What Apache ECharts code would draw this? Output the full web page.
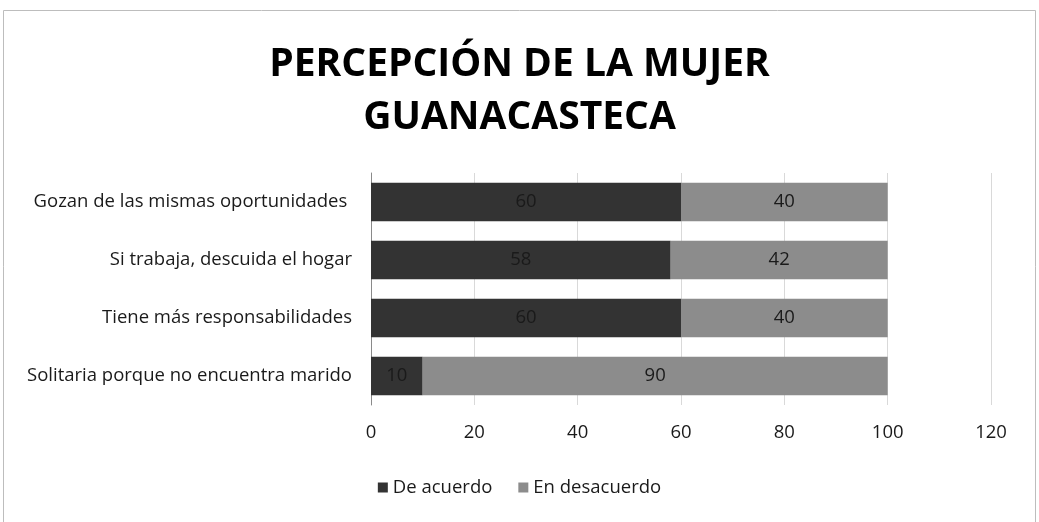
<!DOCTYPE html>
<html>
<head>
<meta charset="utf-8">
<script src="https://cdn.jsdelivr.net/npm/echarts@6/dist/echarts.min.js"></script>
<style>
  html, body { margin: 0; padding: 0; background: #fff; }
  #chart { width: 1039px; height: 522px; }
</style>
</head>
<body>
<div id="chart"></div>
<script>
var categories = [
    'Gozan de las mismas oportunidades ',
    'Si trabaja, descuida el hogar',
    'Tiene más responsabilidades',
    'Solitaria porque no encuentra marido'
];
var deAcuerdo = [60, 58, 60, 10];
var enDesacuerdo = [40, 42, 40, 90];
var xTicks = [0, 20, 40, 60, 80, 100, 120];

var chart = echarts.init(document.getElementById('chart'));

var font = '"Open Sans", "Noto Sans", sans-serif';

chart.setOption({
    textStyle: { fontFamily: font },
    color: ['#333333', '#8c8c8c'],
    title: {
        text: 'PERCEPCIÓN DE LA MUJER\nGUANACASTECA',
        left: 'center',
        top: 33,
        textStyle: {
            fontFamily: font,
            fontSize: 39,
            fontWeight: 'bold',
            color: '#000',
            lineHeight: 53
        }
    },
    graphic: [{
        type: 'rect',
        shape: { x: 3.5, y: 10.5, width: 1032, height: 530 },
        style: { fill: 'none', stroke: '#bdbdbd', lineWidth: 1 },
        silent: true
    }],
    legend: {
        bottom: 20,
        left: 'center',
        icon: 'rect',
        itemWidth: 10,
        itemHeight: 10,
        itemGap: 26,
        textStyle: { fontSize: 18.5, color: '#1a1a1a', fontFamily: font },
        data: ['De acuerdo', 'En desacuerdo']
    },
    grid: {
        left: 371,
        right: 48,
        top: 173,
        bottom: 117
    },
    xAxis: {
        type: 'value',
        min: xTicks[0],
        max: xTicks[xTicks.length - 1],
        interval: 20,
        axisLine: { show: false },
        axisTick: { show: false },
        axisLabel: { fontSize: 18.5, color: '#1a1a1a', margin: 18 },
        splitLine: { lineStyle: { color: '#d9d9d9', width: 1 } }
    },
    yAxis: {
        type: 'category',
        inverse: true,
        data: categories,
        axisLine: { show: true, lineStyle: { color: '#8a8a8a' } },
        axisTick: { show: false },
        axisLabel: { fontSize: 18.5, color: '#1a1a1a', margin: 19 }
    },
    series: [{
        name: 'De acuerdo',
        type: 'bar',
        stack: 'total',
        barWidth: '66%',
        data: deAcuerdo,
        label: { show: true, position: 'inside', fontSize: 18.5, color: '#1a1a1a' }
    }, {
        name: 'En desacuerdo',
        type: 'bar',
        stack: 'total',
        barWidth: '66%',
        data: enDesacuerdo,
        label: { show: true, position: 'inside', fontSize: 18.5, color: '#1a1a1a' }
    }]
});
</script>
</body>
</html>
